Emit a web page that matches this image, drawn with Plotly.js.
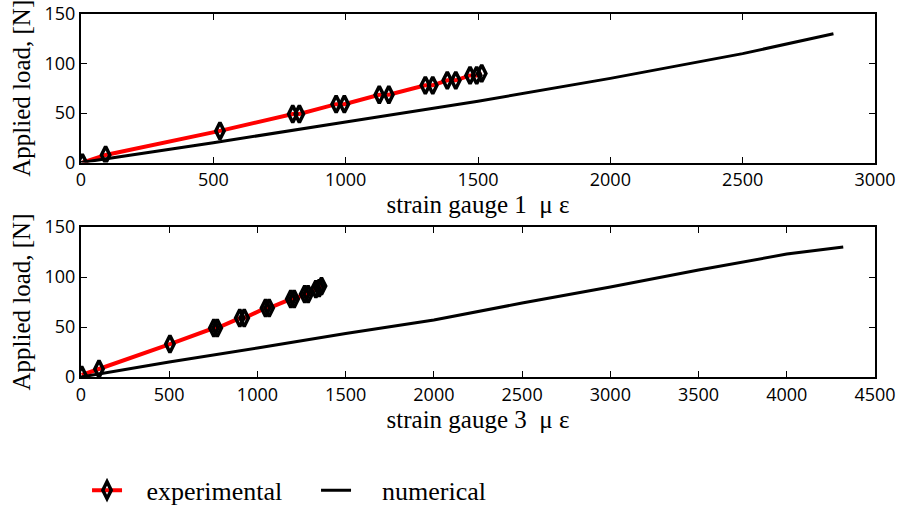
<!DOCTYPE html>
<html>
<head>
<meta charset="utf-8">
<script src="https://cdn.plot.ly/plotly-3.0.1.min.js"></script>
<style>html,body{margin:0;padding:0;background:#fff;}#chart{width:902px;height:507px;}</style>
</head>
<body>
<div id="chart"></div>
<script>
// Gauge 1 (top panel)
const g1ExpStrain = [5, 93, 525, 800, 825, 964, 995, 1127, 1163, 1301, 1329, 1384, 1416, 1470, 1495, 1514];
const g1ExpLoad   = [0, 7.7, 32, 49, 49, 59, 59, 68.5, 68.5, 78, 78, 83, 83, 88, 88, 90];
const g1NumStrain = [0, 500, 1000, 1500, 2000, 2500, 2843];
const g1NumLoad   = [0, 20, 41, 62, 85, 110, 130];
// Gauge 3 (bottom panel)
const g3ExpStrain = [4, 102, 504, 753, 772, 900, 925, 1046, 1066, 1189, 1208, 1268, 1287, 1331, 1350, 1363];
const g3ExpLoad   = [2, 8, 33, 49, 49, 59, 59, 69, 69, 78, 78, 83, 83, 88, 89, 91];
const g3NumStrain = [0, 500, 1000, 1500, 2000, 2500, 3000, 3500, 4000, 4320];
const g3NumLoad   = [0, 15, 29, 43.5, 57, 74, 90, 107, 123, 130];

const xTicks1 = [0, 500, 1000, 1500, 2000, 2500, 3000];
const xTicks3 = [0, 500, 1000, 1500, 2000, 2500, 3000, 3500, 4000, 4500];
const yTicks  = [0, 50, 100, 150];

const expLine = {color: '#ff0000', width: 4};
const expMarker = {symbol: 'diamond-tall-open', size: 12, color: '#000', line: {width: 3.5, color: '#000'}};
const numLine = {color: '#000', width: 3};

const nb = '\u00a0\u00a0\u00a0';
const traces = [
  {x: g1ExpStrain, y: g1ExpLoad, mode: 'lines+markers', line: expLine, marker: expMarker, name: nb + 'experimental', xaxis: 'x', yaxis: 'y', legendgroup: 'e'},
  {x: g1NumStrain, y: g1NumLoad, mode: 'lines', line: numLine, name: nb + '\u00a0numerical', xaxis: 'x', yaxis: 'y', legendgroup: 'n'},
  {x: g3ExpStrain, y: g3ExpLoad, mode: 'lines+markers', line: expLine, marker: expMarker, name: 'experimental', xaxis: 'x2', yaxis: 'y2', showlegend: false, legendgroup: 'e'},
  {x: g3NumStrain, y: g3NumLoad, mode: 'lines', line: numLine, name: 'numerical', xaxis: 'x2', yaxis: 'y2', showlegend: false, legendgroup: 'n'}
];

const tickFont = {family: '"Open Sans", sans-serif', size: 18, color: '#000'};
const titleFont = {family: '"Liberation Serif", "Times New Roman", serif', size: 25, color: '#000'};
const legendFont = {family: '"Liberation Serif", "Times New Roman", serif', size: 26, color: '#000'};

function xAxis(ticks, range, title, anchor) {
  return {
    range: range, tickvals: ticks, ticktext: ticks.map(String), ticks: 'inside', ticklen: 6, tickwidth: 1,
    tickcolor: '#000', showline: true, linecolor: '#000', linewidth: 2, mirror: 'ticks',
    showgrid: false, zeroline: false, tickfont: tickFont, anchor: anchor,
    title: {text: title, font: titleFont, standoff: 2}, automargin: false
  };
}
function yAxis(domain, anchor) {
  return {
    domain: domain, range: [0, 150], tickvals: yTicks, ticktext: yTicks.map(String), ticks: 'inside', ticklen: 6, tickwidth: 1,
    tickcolor: '#000', showline: true, linecolor: '#000', linewidth: 2, mirror: 'ticks',
    showgrid: false, zeroline: false, tickfont: tickFont, anchor: anchor,
    title: {text: 'Applied load, [N]', font: titleFont, standoff: 7}, automargin: false
  };
}

const layout = {
  width: 902, height: 507,
  margin: {l: 81, r: 27, t: 14, b: 130},
  paper_bgcolor: '#fff', plot_bgcolor: '#fff',
  showlegend: true,
  legend: {orientation: 'h', x: 0.0076, xanchor: 'left', xref: 'paper', y: 0.033, yanchor: 'middle', yref: 'container',
           font: legendFont, entrywidth: 184, entrywidthmode: 'pixels', bgcolor: 'rgba(0,0,0,0)'},
  xaxis: xAxis(xTicks1, [0, 3000], 'strain gauge 1  μ ε', 'y'),
  yaxis: yAxis([0.5907, 1], 'x'),
  xaxis2: xAxis(xTicks3, [0, 4500], 'strain gauge 3  μ ε', 'y2'),
  yaxis2: yAxis([0, 0.4129], 'x2')
};

Plotly.newPlot('chart', traces, layout, {displayModeBar: false, staticPlot: true});
</script>
</body>
</html>
